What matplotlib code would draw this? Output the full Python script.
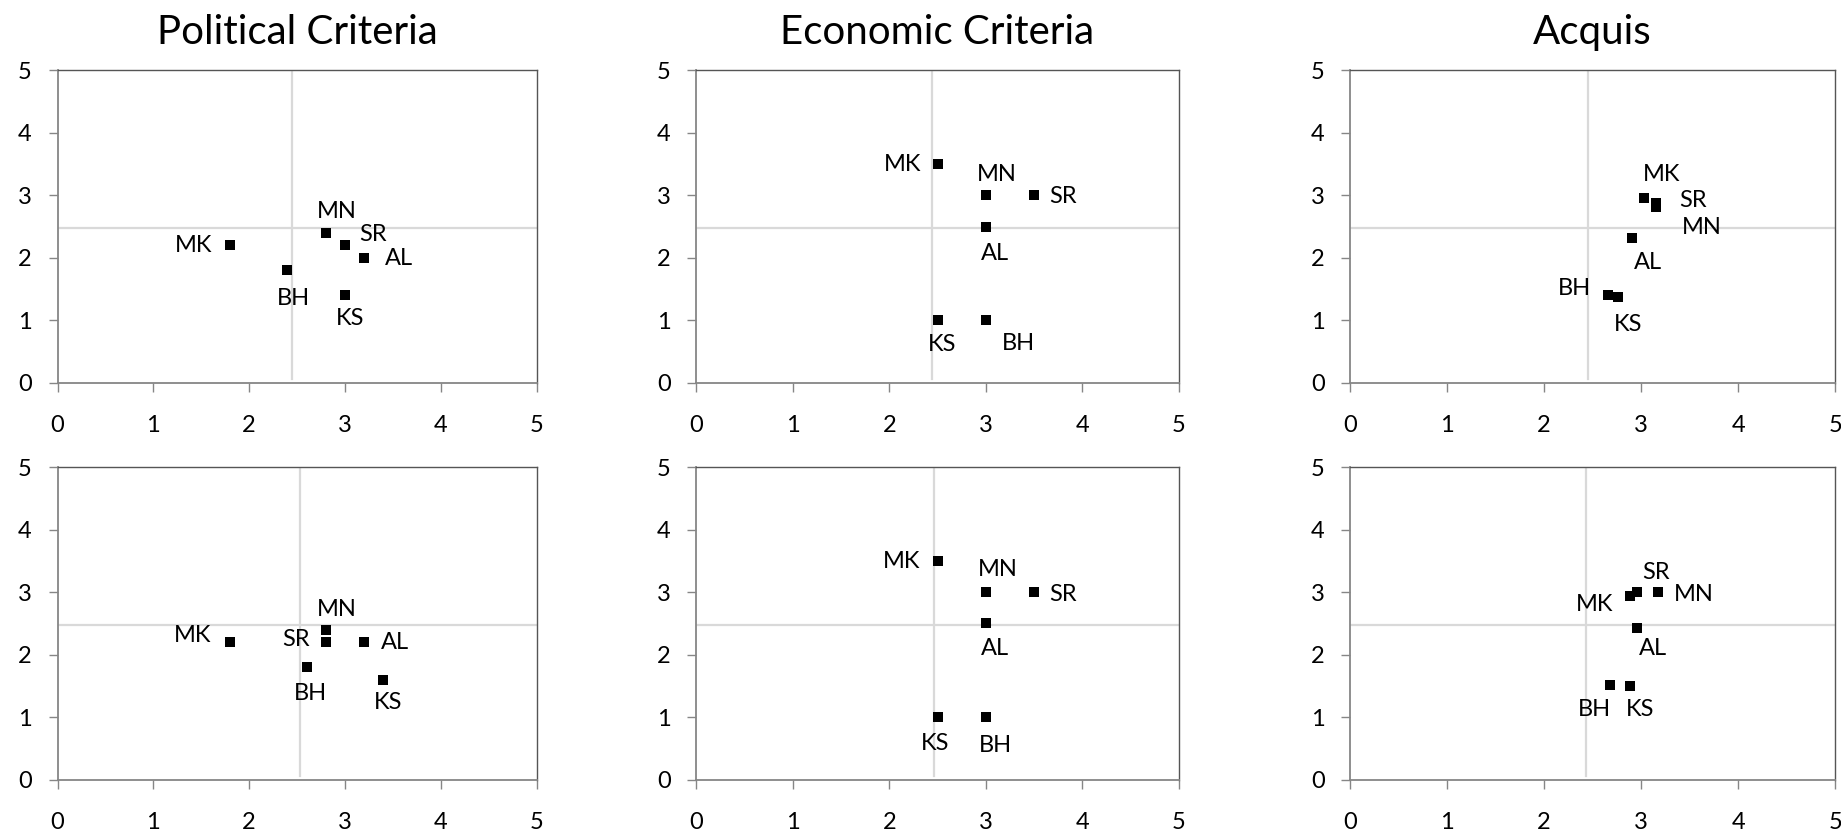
import numpy as np
import matplotlib.pyplot as plt

plt.rcParams['font.family'] = ['Lato', 'DejaVu Sans']

titles = ["Political Criteria", "Economic Criteria", "Acquis"]

# one list per panel: top row then bottom row
names = [
    ["MK", "BH", "MN", "SR", "AL", "KS"],
    ["MK", "MN", "SR", "AL", "KS", "BH"],
    ["MK", "SR", "MN", "AL", "BH", "KS"],
    ["MK", "MN", "SR", "AL", "BH", "KS"],
    ["MK", "MN", "SR", "AL", "KS", "BH"],
    ["SR", "MK", "MN", "AL", "BH", "KS"],
]
xs = [
    [1.8, 2.4, 2.8, 3.0, 3.2, 3.0],
    [2.5, 3.0, 3.5, 3.0, 2.5, 3.0],
    [3.03, 3.15, 3.15, 2.91, 2.66, 2.76],
    [1.8, 2.8, 2.8, 3.2, 2.6, 3.4],
    [2.5, 3.0, 3.5, 3.0, 2.5, 3.0],
    [2.96, 2.88, 3.17, 2.96, 2.68, 2.88],
]
ys = [
    [2.2, 1.8, 2.4, 2.2, 2.0, 1.4],
    [3.5, 3.0, 3.0, 2.5, 1.0, 1.0],
    [2.96, 2.88, 2.82, 2.32, 1.41, 1.38],
    [2.2, 2.4, 2.2, 2.2, 1.8, 1.6],
    [3.5, 3.0, 3.0, 2.5, 1.0, 1.0],
    [3.0, 2.94, 3.0, 2.42, 1.51, 1.5],
]
# label offsets (pixels) relative to the point
label_dx = [
    [-36, 6, 11, 28, 35, 5],
    [-35, 11, 29, 9, 5, 33],
    [18, 37, 46, 16, -34, 10],
    [-37, 11, -30, 31, 4, 5],
    [-36, 12, 29, 9, -2, 10],
    [19, -35, 36, 16, -16, 11],
]
label_dy = [
    [0, -28, 21, 11, -1, -23],
    [0, 21, -1, -27, -24, -23],
    [23, 2, -21, -25, 6, -28],
    [7, 20, 3, 0, -26, -23],
    [-1, 23, -2, -25, -26, -28],
    [20, -9, -2, -20, -24, -24],
]
# light grey cross lines
vline_x = [2.45, 2.44, 2.45, 2.53, 2.46, 2.43]
hline_y = [2.47, 2.48, 2.47, 2.48, 2.48, 2.47]

ticks = [0, 1, 2, 3, 4, 5]

W, H = 1841, 834
fig = plt.figure(figsize=(W / 100, H / 100), dpi=100)

col_px = [(57.5, 536.6), (696.2, 1178.8), (1350.2, 1835.1)]
row_px = [(70.4, 382.8), (467.3, 779.6)]

for i in range(6):
    r, c = divmod(i, 3)
    l, rr = col_px[c]
    t, b = row_px[r]
    ax = fig.add_axes([l / W, 1 - b / H, (rr - l) / W, (b - t) / H])
    ax.set_xlim(0, 5)
    ax.set_ylim(0, 5)
    ax.set_xticks(ticks)
    ax.set_yticks(ticks)
    ax.tick_params(direction='out', length=6.5, width=1, color='#868686',
                   labelsize=17, labelcolor='black')
    ax.tick_params(axis='x', pad=17)
    ax.tick_params(axis='y', pad=12)
    for s in ['left', 'bottom']:
        ax.spines[s].set_color('#868686')
        ax.spines[s].set_linewidth(1.3)
    for s in ['top', 'right']:
        ax.spines[s].set_color('#555555')
        ax.spines[s].set_linewidth(1.0)

    ax.plot([vline_x[i], vline_x[i]], [0.06, 5], color='#d9d9d9', lw=1.6, zorder=1)
    ax.plot([0, 5], [hline_y[i], hline_y[i]], color='#d9d9d9', lw=1.6, zorder=1)

    ax.scatter(xs[i], ys[i], marker='s', s=56, color='black', zorder=3, linewidths=0)
    for n, x, y, dx, dy in zip(names[i], xs[i], ys[i], label_dx[i], label_dy[i]):
        ax.annotate(n, (x, y), xytext=(dx, dy), textcoords='offset pixels',
                    ha='center', va='center', fontsize=17, zorder=4)

    if r == 0:
        ax.set_title(titles[c], fontsize=29, pad=19)

fig.savefig('out.png', dpi=100)
